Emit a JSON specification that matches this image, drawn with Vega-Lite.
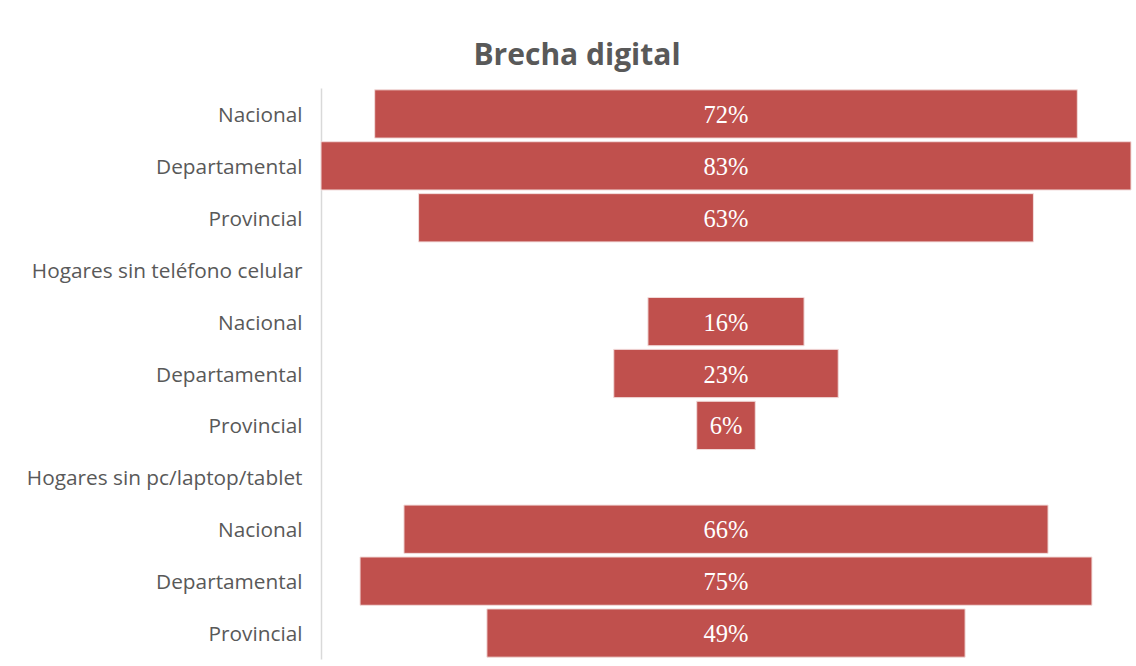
{
  "$schema": "https://vega.github.io/schema/vega-lite/v6.json",
  "autosize": {"type": "none"},
  "width": 810,
  "height": 571,
  "padding": {"left": 321, "top": 88, "right": 5, "bottom": 7},
  "background": "#ffffff",
  "title": {
    "text": "Brecha digital",
    "font": "Open Sans",
    "fontWeight": "bold",
    "fontSize": 30,
    "color": "#595959",
    "anchor": "middle",
    "baseline": "alphabetic",
    "dx": -149,
    "dy": 30,
    "offset": 23
  },
  "data": {
    "values": [
      {"row": "01|Nacional", "value": 72, "label": "72%"},
      {"row": "02|Departamental", "value": 83, "label": "83%"},
      {"row": "03|Provincial", "value": 63, "label": "63%"},
      {"row": "05|Nacional", "value": 16, "label": "16%"},
      {"row": "06|Departamental", "value": 23, "label": "23%"},
      {"row": "07|Provincial", "value": 6, "label": "6%"},
      {"row": "09|Nacional", "value": 66, "label": "66%"},
      {"row": "10|Departamental", "value": 75, "label": "75%"},
      {"row": "11|Provincial", "value": 49, "label": "49%"}
    ]
  },
  "encoding": {
    "y": {
      "field": "row",
      "type": "nominal",
      "scale": {
        "domain": ["01|Nacional", "02|Departamental", "03|Provincial", "04|Hogares sin teléfono celular", "05|Nacional", "06|Departamental", "07|Provincial", "08|Hogares sin pc/laptop/tablet", "09|Nacional", "10|Departamental", "11|Provincial"],
        "paddingInner": 0.07,
        "paddingOuter": 0.035
      },
      "axis": {
        "title": null,
        "labelExpr": "split(datum.value, '|')[1]",
        "labelFont": "Open Sans",
        "labelFontSize": 20.8,
        "labelColor": "#595959",
        "labelPadding": 19,
        "labelOffset": 2,
        "ticks": false,
        "domain": true,
        "domainColor": "#D9D9D9",
        "domainWidth": 1.5,
        "grid": false,
        "labelLimit": 400
      }
    }
  },
  "layer": [
    {
      "mark": {"type": "bar", "color": "#C0504D", "stroke": "#F2DCDB", "strokeWidth": 1},
      "encoding": {
        "x": {
          "field": "value",
          "type": "quantitative",
          "stack": "center",
          "scale": {"domain": [0, 83], "nice": false, "zero": true},
          "axis": null
        }
      }
    },
    {
      "mark": {"type": "text", "color": "#ffffff", "font": "Liberation Serif", "fontSize": 24.5, "align": "center", "baseline": "middle", "dy": 2},
      "encoding": {
        "x": {
          "field": "value",
          "type": "quantitative",
          "stack": "center",
          "bandPosition": 0.5,
          "scale": {"domain": [0, 83], "nice": false, "zero": true},
          "axis": null
        },
        "text": {"field": "label", "type": "nominal"}
      }
    }
  ],
  "config": {"view": {"stroke": null}}
}
